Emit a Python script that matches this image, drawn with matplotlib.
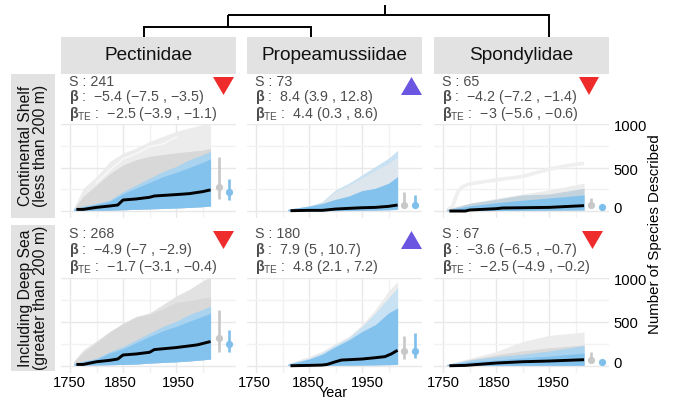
import matplotlib
matplotlib.use("Agg")
import matplotlib.pyplot as plt
from matplotlib.patches import Rectangle, Polygon
from matplotlib.transforms import ScaledTranslation

plt.rcParams['font.family'] = ['Liberation Sans', 'DejaVu Sans']
plt.rcParams['mathtext.fontset'] = 'custom'
plt.rcParams['mathtext.rm'] = 'Liberation Sans'
plt.rcParams['mathtext.bf'] = 'Liberation Sans:bold'
plt.rcParams['mathtext.default'] = 'regular'

families = ["Pectinidae", "Propeamussiidae", "Spondylidae"]
depths = ["Continental Shelf\n(less than 200 m)", "Including Deep Sea\n(greater than 200 m)"]
x_ticks = [1750, 1850, 1950]
y_ticks = [0, 500, 1000]
x_minor = [1800, 1900, 2000]
y_minor = [250, 750]

years_pect = [1757, 1775, 1800, 1825, 1850, 1875, 1900, 1925, 1950, 1975, 2000, 2015]
years_prop = [1810, 1850, 1875, 1900, 1925, 1950, 1975, 2000, 2017]
years_spon = [1757, 1800, 1850, 1900, 1950, 2016]

# Pectinidae, continental shelf
ps_light = [30, 262, 397, 570, 666, 724, 800, 858, 916, 955, 993, 1005]
ps_gray = [25, 170, 300, 430, 530, 590, 630, 650, 670, 685, 700, 720]
ps_blue_top = [30, 58, 88, 127, 223, 300, 377, 454, 512, 589, 647, 685]
ps_blue_dense = [25, 50, 78, 112, 200, 265, 330, 395, 445, 500, 560, 600]
ps_blue_low = [8, 8, 8, 10, 15, 20, 25, 30, 35, 42, 50, 58]
ps_black_x = [1762, 1775, 1800, 1825, 1840, 1850, 1875, 1900, 1909, 1950, 1975, 2000, 2015]
ps_black = [19, 19, 42, 58, 69, 127, 139, 158, 173, 189, 200, 223, 243]
ps_streak_x = [1800, 1825, 1850, 1875, 1900, 1925, 1950]
ps_streak = [330, 470, 600, 660, 740, 770, 850]

# Pectinidae, deep sea
pd_light = [54, 181, 285, 393, 489, 566, 604, 700, 797, 874, 970, 1020]
pd_gray = [40, 150, 265, 385, 480, 555, 590, 650, 725, 745, 775, 785]
pd_blue_top = [27, 54, 85, 162, 219, 296, 373, 450, 508, 585, 643, 681]
pd_blue_dense = [22, 48, 78, 145, 195, 265, 335, 400, 450, 510, 565, 600]
pd_blue_low = [8, 8, 10, 12, 15, 20, 30, 38, 45, 55, 68, 77]
pd_black_x = [1762, 1775, 1800, 1825, 1840, 1850, 1875, 1900, 1909, 1950, 1975, 1990, 2015]
pd_black = [15, 15, 46, 62, 77, 123, 135, 154, 185, 208, 227, 239, 277]

# Propeamussiidae, continental shelf
rs_light = [25, 50, 110, 243, 320, 415, 512, 608, 697]
rs_gray = [22, 60, 100, 225, 300, 380, 470, 550, 620]
rs_blue_top = [19, 58, 88, 135, 173, 235, 262, 320, 397]
rs_blue_low = [3, 3, 4, 5, 6, 8, 10, 14, 20]
rs_black_x = [1815, 1850, 1875, 1900, 1925, 1950, 1975, 2000, 2017]
rs_black = [4, 8, 8, 23, 31, 38, 42, 54, 69]

# Propeamussiidae, deep sea
rd_light = [27, 108, 166, 258, 335, 470, 643, 855, 963]
rd_gray = [24, 85, 150, 240, 320, 450, 604, 778, 893]
rd_blue_top = [15, 77, 131, 219, 296, 393, 470, 604, 662]
rd_blue_low = [3, 3, 4, 5, 6, 7, 9, 12, 15]
rd_black_x = [1815, 1850, 1875, 1884, 1900, 1911, 1950, 1975, 1993, 2005, 2017]
rd_black = [0, 4, 8, 15, 46, 65, 77, 92, 104, 135, 177]
rd_streak_x = [1950, 1975, 2000]
rd_streak = [362, 547, 720]

# Spondylidae, continental shelf
ss_outlier_x = [1757, 1768, 1778, 1787, 1800, 1850, 1900, 1950, 1982, 2016]
ss_outlier = [12, 50, 223, 281, 312, 358, 397, 481, 520, 550]
ss_gray = [20, 90, 146, 196, 243, 320]
ss_blue_top = [20, 88, 135, 185, 196, 262]
ss_blue_dense = [15, 60, 95, 125, 150, 185]
ss_blue_low = [4, 5, 6, 7, 9, 12]
ss_black_x = [1762, 1792, 1800, 1850, 1862, 1950, 2016]
ss_black = [0, 0, 12, 27, 35, 42, 62]

# Spondylidae, deep sea
sd_light = [15, 85, 162, 277, 347, 385]
sd_gray = [15, 70, 125, 170, 205, 239]
sd_blue_top = [15, 65, 104, 131, 169, 231]
sd_blue_dense = [12, 45, 65, 90, 110, 145]
sd_blue_low = [3, 3, 4, 4, 5, 5]
sd_black_x = [1762, 1792, 1850, 1900, 1950, 2016]
sd_black = [0, 4, 31, 46, 54, 69]

# Interval summaries: [low, point, high] for the two groups
ps_gray_iv = [139, 273, 620]; ps_blue_iv = [127, 216, 366]
rs_gray_iv = [31, 69, 223]; rs_blue_iv = [31, 69, 185]
ss_gray_iv = [31, 69, 146]; ss_blue_iv = [38, 42, 46]
pd_gray_iv = [154, 312, 643]; pd_blue_iv = [162, 250, 412]
rd_gray_iv = [77, 169, 335]; rd_blue_iv = [85, 169, 373]
sd_gray_iv = [27, 69, 154]; sd_blue_iv = [42, 46, 50]

annotations = [
    [("241", r"$\mathbf{β}$ :  −5.4 (−7.5 , −3.5)", r"$\mathbf{β}_{TE}$ :  −2.5 (−3.9 , −1.1)"),
     ("73", r"$\mathbf{β}$ :  8.4 (3.9 , 12.8)", r"$\mathbf{β}_{TE}$ :  4.4 (0.3 , 8.6)"),
     ("65", r"$\mathbf{β}$ :  −4.2 (−7.2 , −1.4)", r"$\mathbf{β}_{TE}$ :  −3 (−5.6 , −0.6)")],
    [("268", r"$\mathbf{β}$ :  −4.9 (−7 , −2.9)", r"$\mathbf{β}_{TE}$ :  −1.7 (−3.1 , −0.4)"),
     ("180", r"$\mathbf{β}$ :  7.9 (5 , 10.7)", r"$\mathbf{β}_{TE}$ :  4.8 (2.1 , 7.2)"),
     ("67", r"$\mathbf{β}$ :  −3.6 (−6.5 , −0.7)", r"$\mathbf{β}_{TE}$ :  −2.5 (−4.9 , −0.2)")],
]
trend_up = [[False, True, False], [False, True, False]]

W, H = 674, 400
C_LIGHT, C_GRAY = "#ececec", "#d8d8d8"
C_BLUE_L, C_BLUE = "#c8e1f3", "#84c2ee"
C_PALE = "#a9d3ef"
fig = plt.figure(figsize=(W / 100, H / 100), dpi=100)


def axes_px(x0, x1, y0, y1):
    return fig.add_axes([x0 / W, 1 - y1 / H, (x1 - x0) / W, (y1 - y0) / H])


def shift(label, dx, dy):
    label.set_transform(label.get_transform() + ScaledTranslation(dx / 100, -dy / 100, fig.dpi_scale_trans))


def band(ax, xs, top, low, color, z):
    ax.fill_between(xs, low, top, color=color, lw=0, zorder=z)


panel_x = [(61, 236), (247, 422), (434, 609)]
panel_y = [(123.5, 218, -80, 1006), (278, 373, -83, 1004)]
label_dx = [[-1, -3, 2], [-2, -1, 5], [0, -2, 4]]
tick_dy = [[4, -1.5, -1], [3.5, 0, -1]]

panels = [
    [dict(x=years_pect, layers=[(ps_light, C_LIGHT), (ps_gray, C_GRAY), (ps_blue_top, C_PALE), (ps_blue_dense, C_BLUE)],
          low=ps_blue_low, bx=ps_black_x, by=ps_black, g=ps_gray_iv, b=ps_blue_iv, sx=ps_streak_x, sy=ps_streak),
     dict(x=years_prop, layers=[(rs_light, C_BLUE_L), (rs_gray, "#dde6ec"), (rs_blue_top, C_BLUE)],
          low=rs_blue_low, bx=rs_black_x, by=rs_black, g=rs_gray_iv, b=rs_blue_iv),
     dict(x=years_spon, layers=[(ss_gray, C_LIGHT), (ss_blue_top, "#c3d3de"), (ss_blue_dense, C_BLUE)],
          low=ss_blue_low, bx=ss_black_x, by=ss_black, g=ss_gray_iv, b=ss_blue_iv,
          ox=ss_outlier_x, oy=ss_outlier)],
    [dict(x=years_pect, layers=[(pd_light, "#e2e2e2"), (pd_gray, C_GRAY), (pd_blue_top, C_PALE), (pd_blue_dense, C_BLUE)],
          low=pd_blue_low, bx=pd_black_x, by=pd_black, g=pd_gray_iv, b=pd_blue_iv),
     dict(x=years_prop, layers=[(rd_light, C_LIGHT), (rd_gray, C_BLUE_L), (rd_blue_top, C_BLUE)],
          low=rd_blue_low, bx=rd_black_x, by=rd_black, g=rd_gray_iv, b=rd_blue_iv, sx=rd_streak_x, sy=rd_streak),
     dict(x=years_spon, layers=[(sd_light, C_LIGHT), (sd_gray, "#d9d9d9"), (sd_blue_top, C_PALE), (sd_blue_dense, C_BLUE)],
          low=sd_blue_low, bx=sd_black_x, by=sd_black, g=sd_gray_iv, b=sd_blue_iv)],
]

for r, (y0, y1, ymin, ymax) in enumerate(panel_y):
    for c, (x0, x1) in enumerate(panel_x):
        ax = axes_px(x0, x1, y0, y1)
        ax.set_xlim(1733, 2063)
        ax.set_ylim(ymin, ymax)
        ax.patch.set_alpha(0)
        for s in ax.spines.values():
            s.set_visible(False)
        ax.set_xticks(x_ticks)
        ax.set_yticks(y_ticks)
        ax.set_xticks(x_minor, minor=True)
        ax.set_yticks(y_minor, minor=True)
        ax.tick_params(which='both', length=0)
        ax.grid(True, which='major', color="#e8e8e8", lw=1.0, zorder=0)
        ax.grid(True, which='minor', color="#f2f2f2", lw=1.0, zorder=0)
        ax.set_axisbelow(True)
        p = panels[r][c]
        if 'ox' in p:
            ax.plot(p['ox'], p['oy'], color="#efefef", lw=2.6, zorder=1.5, solid_capstyle='butt')
        for i, (top, color) in enumerate(p['layers']):
            band(ax, p['x'], top, p['low'], color, 2 + i * 0.1)
        if 'sx' in p:
            ax.plot(p['sx'], p['sy'], color="#f8f8f8", lw=1.2, zorder=2.05)
        ax.plot(p['bx'], p['by'], color="black", lw=2.1, zorder=4, solid_capstyle='butt')
        for xpos, iv, col in ((2030, p['g'], "#c8c8c8"), (2050, p['b'], "#7fbfeb")):
            ax.plot([xpos, xpos], [iv[0], iv[2]], color=col, lw=1.9, zorder=4, solid_capstyle='butt')
            ax.plot([xpos], [iv[1]], 'o', color=col, ms=5.2, mew=0, zorder=5)
        if r == 1:
            ax.set_xticklabels([str(t) for t in x_ticks], fontsize=10.6, color="black")
            ax.tick_params(axis='x', pad=2)
            for lab, dx in zip(ax.get_xticklabels(), label_dx[c]):
                shift(lab, dx, 0)
        else:
            ax.tick_params(axis='x', labelbottom=False)
        if c == 2:
            ax.yaxis.tick_right()
            ax.set_yticklabels([str(t) for t in y_ticks], fontsize=10.6, color="black")
            ax.tick_params(axis='y', pad=2, right=False, length=0)
            for lab, dy in zip(ax.get_yticklabels(), tick_dy[r]):
                shift(lab, 2, -dy)
        else:
            ax.tick_params(axis='y', labelleft=False)

# Overlay in pixel coordinates for strips, tree, annotations
ov = fig.add_axes([0, 0, 1, 1], zorder=10)
ov.set_xlim(0, W)
ov.set_ylim(H, 0)
ov.axis('off')
ov.patch.set_alpha(0)

STRIP = "#e2e2e2"
for (x0, x1), name in zip(panel_x, families):
    ov.add_patch(Rectangle((x0, 37), x1 - x0, 37, fc=STRIP, ec='none'))
    ov.text((x0 + x1) / 2, 56, name, ha='center', va='center', fontsize=13.7, color="#111111")
for (y0, y1), name in zip([(74, 218), (225, 371)], depths):
    ov.add_patch(Rectangle((11, y0), 44, y1 - y0, fc=STRIP, ec='none'))
    ov.text(33, (y0 + y1) / 2, name, ha='center', va='center', rotation=90, fontsize=11.3,
            color="#111111", linespacing=1.0, multialignment='center')

tree = [([144, 144, 311, 311], [37, 27, 27, 37]),
        ([228, 228], [27, 15]),
        ([228, 549, 549], [15, 15, 37]),
        ([385, 385], [15, 5])]
for xs, ys in tree:
    ov.plot(xs, ys, color="black", lw=1.4, solid_joinstyle='miter', solid_capstyle='butt')

text_x = [69, 255, 442]
text_y = [(82, 97, 114), (234, 250, 267)]
tri_x = [[(213, 234), (401, 422), (579, 599)], [(213, 234), (401, 422), (582, 603)]]
tri_y = [(77, 95), (231, 249)]
for r in range(2):
    for c in range(3):
        s, b, bte = annotations[r][c]
        for yy, txt in zip(text_y[r], (f"S : {s}", b, bte)):
            ov.text(text_x[c], yy, txt, ha='left', va='center', fontsize=10.3, color="#4d4d4d")
        xa, xb = tri_x[r][c]
        ya, yb = tri_y[r]
        if trend_up[r][c]:
            pts = [(xa, yb), (xb, yb), ((xa + xb) / 2, ya)]
            col = "#6a56e0"
        else:
            pts = [(xa, ya), (xb, ya), ((xa + xb) / 2, yb)]
            col = "#ee2c2c"
        ov.add_patch(Polygon(pts, closed=True, fc=col, ec='none'))

ov.text(333, 393, "Year", ha='center', va='center', fontsize=10.4, color="black")
ov.text(655, 234, "Number of Species Described", ha='center', va='center', rotation=90,
        fontsize=10.8, color="black")

fig.savefig("out.png", dpi=100)
